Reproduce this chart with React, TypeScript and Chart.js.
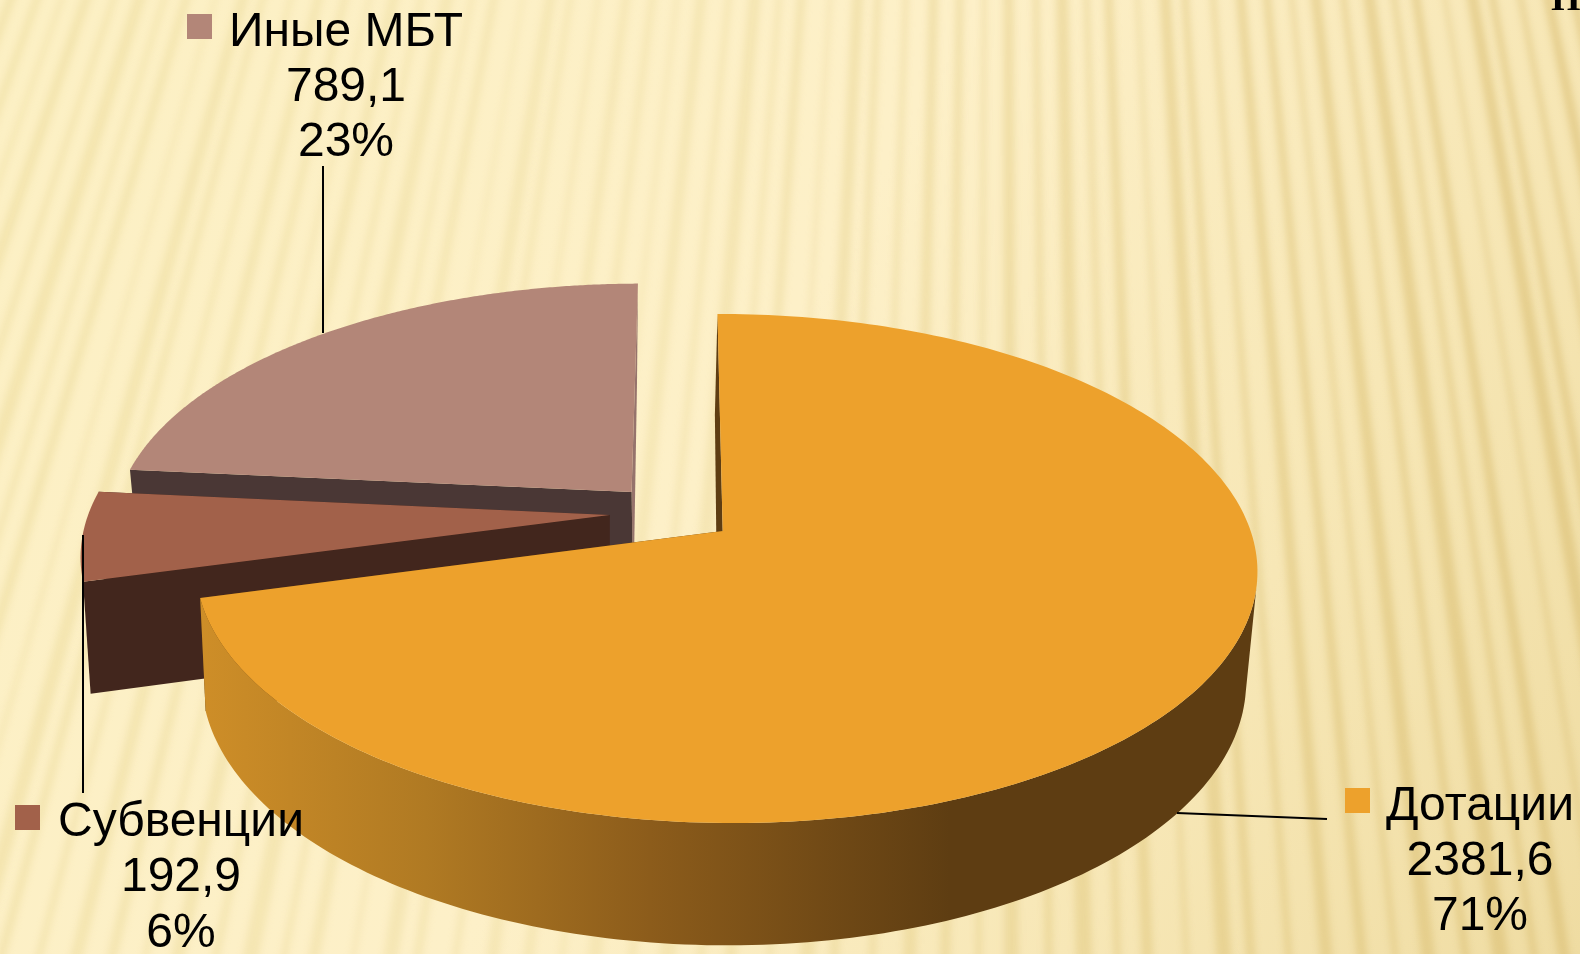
import React, { useEffect, useRef } from "react";
import { Chart, registerables } from "chart.js";

Chart.register(...registerables);

const categories = ["Дотации", "Субвенции", "Иные МБТ"];
const amounts = [2381.6, 192.9, 789.1];
const percents = [71, 6, 23];
const topColors = ["#EDA12C", "#A2614A", "#B38678"];

// perspective styling of the exploded 3D pie
const faceStartColors = ["#5E3D12", "#42261D", "#4A3735"];
const faceEndColors = ["#5E3D12", "#42261D", "#96736C"];
const explodeU = [0, -0.217, -0.176];
const explodeV = [0, 0.0645, 0.16];
const radiusScale = [1, 1.011, 1.005];
const bottomShiftX = [0, 0, 2];
const startFaceShiftX = [-3, 0, 0];
const endFaceBackShiftX = [0, 0, -5];
const hasRim = [true, false, false];
const drawOrder = [2, 1, 0];
const wallStartAngle = (100 * Math.PI) / 180;

const labelCenters = [[1480, 819.5], [181, 836], [346, 45.5]];
const keyBoxes = [[1345, 788], [15, 805], [187, 14]];
const connectors = [
  [[1177, 813], [1327, 819]],
  [[83, 535], [83, 793]],
  [[323, 166], [323, 333]],
];

const stripeWidths = [9, 5, 12, 7, 14, 6, 10, 4, 13, 8, 6, 11];
const stripeGaps = [31, 25, 35, 27, 33, 24, 37, 28, 26, 34, 30, 32];

const TOP = { x0: 722.7, y0: 531, a: 525, b: 249, p: 0.1473, q: -0.0056, s: -6 };
const BOT = { x0: 720.5, y0: 641, a: 516.5, b: 259.5, p: 0.1473, q: -0.0056, s: -3 };

function project(L: typeof TOP, u: number, v: number, shift = 0) {
  const d = 1 + L.p * v + L.q * u;
  return [L.x0 + shift + (L.a * u + L.s * v) / d, L.y0 - (L.b * v) / d];
}

function drawBackground(ctx: CanvasRenderingContext2D, w: number, h: number) {
  const base = ctx.createLinearGradient(0, 100, w, h);
  base.addColorStop(0, "#FCF0C4");
  base.addColorStop(0.45, "#FDF0C8");
  base.addColorStop(0.75, "#F7E7B6");
  base.addColorStop(1, "#EFDCA2");
  ctx.fillStyle = base;
  ctx.fillRect(0, 0, w, h);

  const vx = 1000;
  const vy = -2700;
  const my = 477;
  const sx = (xm: number, y: number) => vx + ((xm - vx) * (y - vy)) / (my - vy);
  const tint = ctx.createLinearGradient(0, 0, w, 0);
  tint.addColorStop(0, "rgba(226,204,125,0.3)");
  tint.addColorStop(0.4, "rgba(226,204,125,0.22)");
  tint.addColorStop(0.75, "rgba(222,196,120,0.5)");
  tint.addColorStop(1, "rgba(218,190,115,0.6)");
  ctx.save();
  ctx.filter = "blur(3.5px)";
  ctx.fillStyle = tint;
  let xm = -500;
  let i = 0;
  while (xm < 2100) {
    const sw = stripeWidths[i % stripeWidths.length];
    ctx.beginPath();
    ctx.moveTo(sx(xm, -10), -10);
    ctx.lineTo(sx(xm + sw, -10), -10);
    ctx.lineTo(sx(xm + sw, h + 10), h + 10);
    ctx.lineTo(sx(xm, h + 10), h + 10);
    ctx.closePath();
    ctx.fill();
    xm += stripeGaps[i % stripeGaps.length];
    i += 1;
  }
  ctx.restore();
}

const pie3d = {
  id: "pie3d",
  beforeDraw(chart: Chart) {
    drawBackground(chart.ctx, chart.width, chart.height);
  },
  beforeDatasetDraw() {
    return false;
  },
  afterDatasetsDraw(chart: Chart) {
    const ctx = chart.ctx;
    const arcs = chart.getDatasetMeta(0).data as any[];
    const ds = chart.data.datasets[0] as any;

    for (const i of drawOrder) {
      const t0 = arcs[i].startAngle + Math.PI / 2;
      const t1 = arcs[i].endAngle + Math.PI / 2;
      const du = explodeU[i];
      const dv = explodeV[i];
      const rs = radiusScale[i];
      const shift = bottomShiftX[i];
      const steps = 240;
      const topPts: number[][] = [];
      const botPts: number[][] = [];
      const wallTop: number[][] = [];
      const wallBot: number[][] = [];
      for (let k = 0; k <= steps; k++) {
        const t = t0 + ((t1 - t0) * k) / steps;
        const u = rs * Math.sin(t) + du;
        const v = rs * Math.cos(t) + dv;
        const pt = project(TOP, u, v);
        const pb = project(BOT, u, v, shift);
        topPts.push(pt);
        botPts.push(pb);
        if (t >= wallStartAngle) {
          wallTop.push(pt);
          wallBot.push(pb);
        }
      }
      const apexT = project(TOP, du, dv);
      const apexB = project(BOT, du, dv, shift);
      const sf = startFaceShiftX[i];
      const eb = endFaceBackShiftX[i];

      const poly = (pts: number[][], fill: string | CanvasGradient) => {
        ctx.beginPath();
        pts.forEach((p, n) => (n ? ctx.lineTo(p[0], p[1]) : ctx.moveTo(p[0], p[1])));
        ctx.closePath();
        ctx.fillStyle = fill;
        ctx.fill();
      };

      // the two cut faces
      poly([apexT, topPts[steps], [botPts[steps][0] + eb, botPts[steps][1]], apexB], faceEndColors[i]);
      poly(
        [apexT, topPts[0], [botPts[0][0] + sf, botPts[0][1]], [apexB[0] + sf, apexB[1]]],
        faceStartColors[i],
      );
      // the visible outer wall
      if (hasRim[i]) {
        const g = ctx.createLinearGradient(200, 0, 950, 0);
        g.addColorStop(0, "#CE8E28");
        g.addColorStop(0.3, "#B07A23");
        g.addColorStop(0.6, "#8C5C1B");
        g.addColorStop(1, "#5E3D12");
        poly([...wallTop, ...wallBot.slice().reverse()], g);
      }
      poly([apexT, ...topPts], ds.backgroundColor[i]);
    }

    // connector lines
    ctx.strokeStyle = "#000";
    ctx.lineWidth = 2;
    connectors.forEach((c) => {
      ctx.beginPath();
      ctx.moveTo(c[0][0], c[0][1]);
      ctx.lineTo(c[1][0], c[1][1]);
      ctx.stroke();
    });

    // labels with their keys
    ctx.font = "48px 'Liberation Sans', Arial, sans-serif";
    ctx.textAlign = "center";
    ctx.textBaseline = "alphabetic";
    (chart.data.labels as string[]).forEach((name, i) => {
      const [cx, by] = labelCenters[i];
      ctx.fillStyle = ds.backgroundColor[i];
      ctx.fillRect(keyBoxes[i][0], keyBoxes[i][1], 25, 25);
      ctx.fillStyle = "#000";
      ctx.fillText(name, cx, by);
      ctx.fillText(String(ds.data[i]).replace(".", ","), cx, by + 55);
      ctx.fillText(percents[i] + "%", cx, by + 110.5);
    });

    // clipped heading of the slide in the top-right corner
    ctx.font = "bold 38px 'Liberation Serif', serif";
    ctx.textAlign = "left";
    ctx.fillText("П", 1551, 10);
  },
};

export default function App() {
  const ref = useRef<HTMLCanvasElement>(null);
  useEffect(() => {
    document.body.style.margin = "0";
    document.body.style.overflow = "hidden";
    const chart = new Chart(ref.current as HTMLCanvasElement, {
      type: "pie",
      data: {
        labels: categories,
        datasets: [{ data: amounts, backgroundColor: topColors, borderWidth: 0 }],
      },
      options: {
        responsive: false,
        animation: false,
        plugins: { legend: { display: false }, tooltip: { enabled: false } },
      },
      plugins: [pie3d as any],
    });
    return () => chart.destroy();
  }, []);
  return (
    <canvas
      ref={ref}
      width={1580}
      height={954}
      style={{ display: "block", position: "fixed", left: 0, top: 0, width: 1580, height: 954 }}
    />
  );
}
